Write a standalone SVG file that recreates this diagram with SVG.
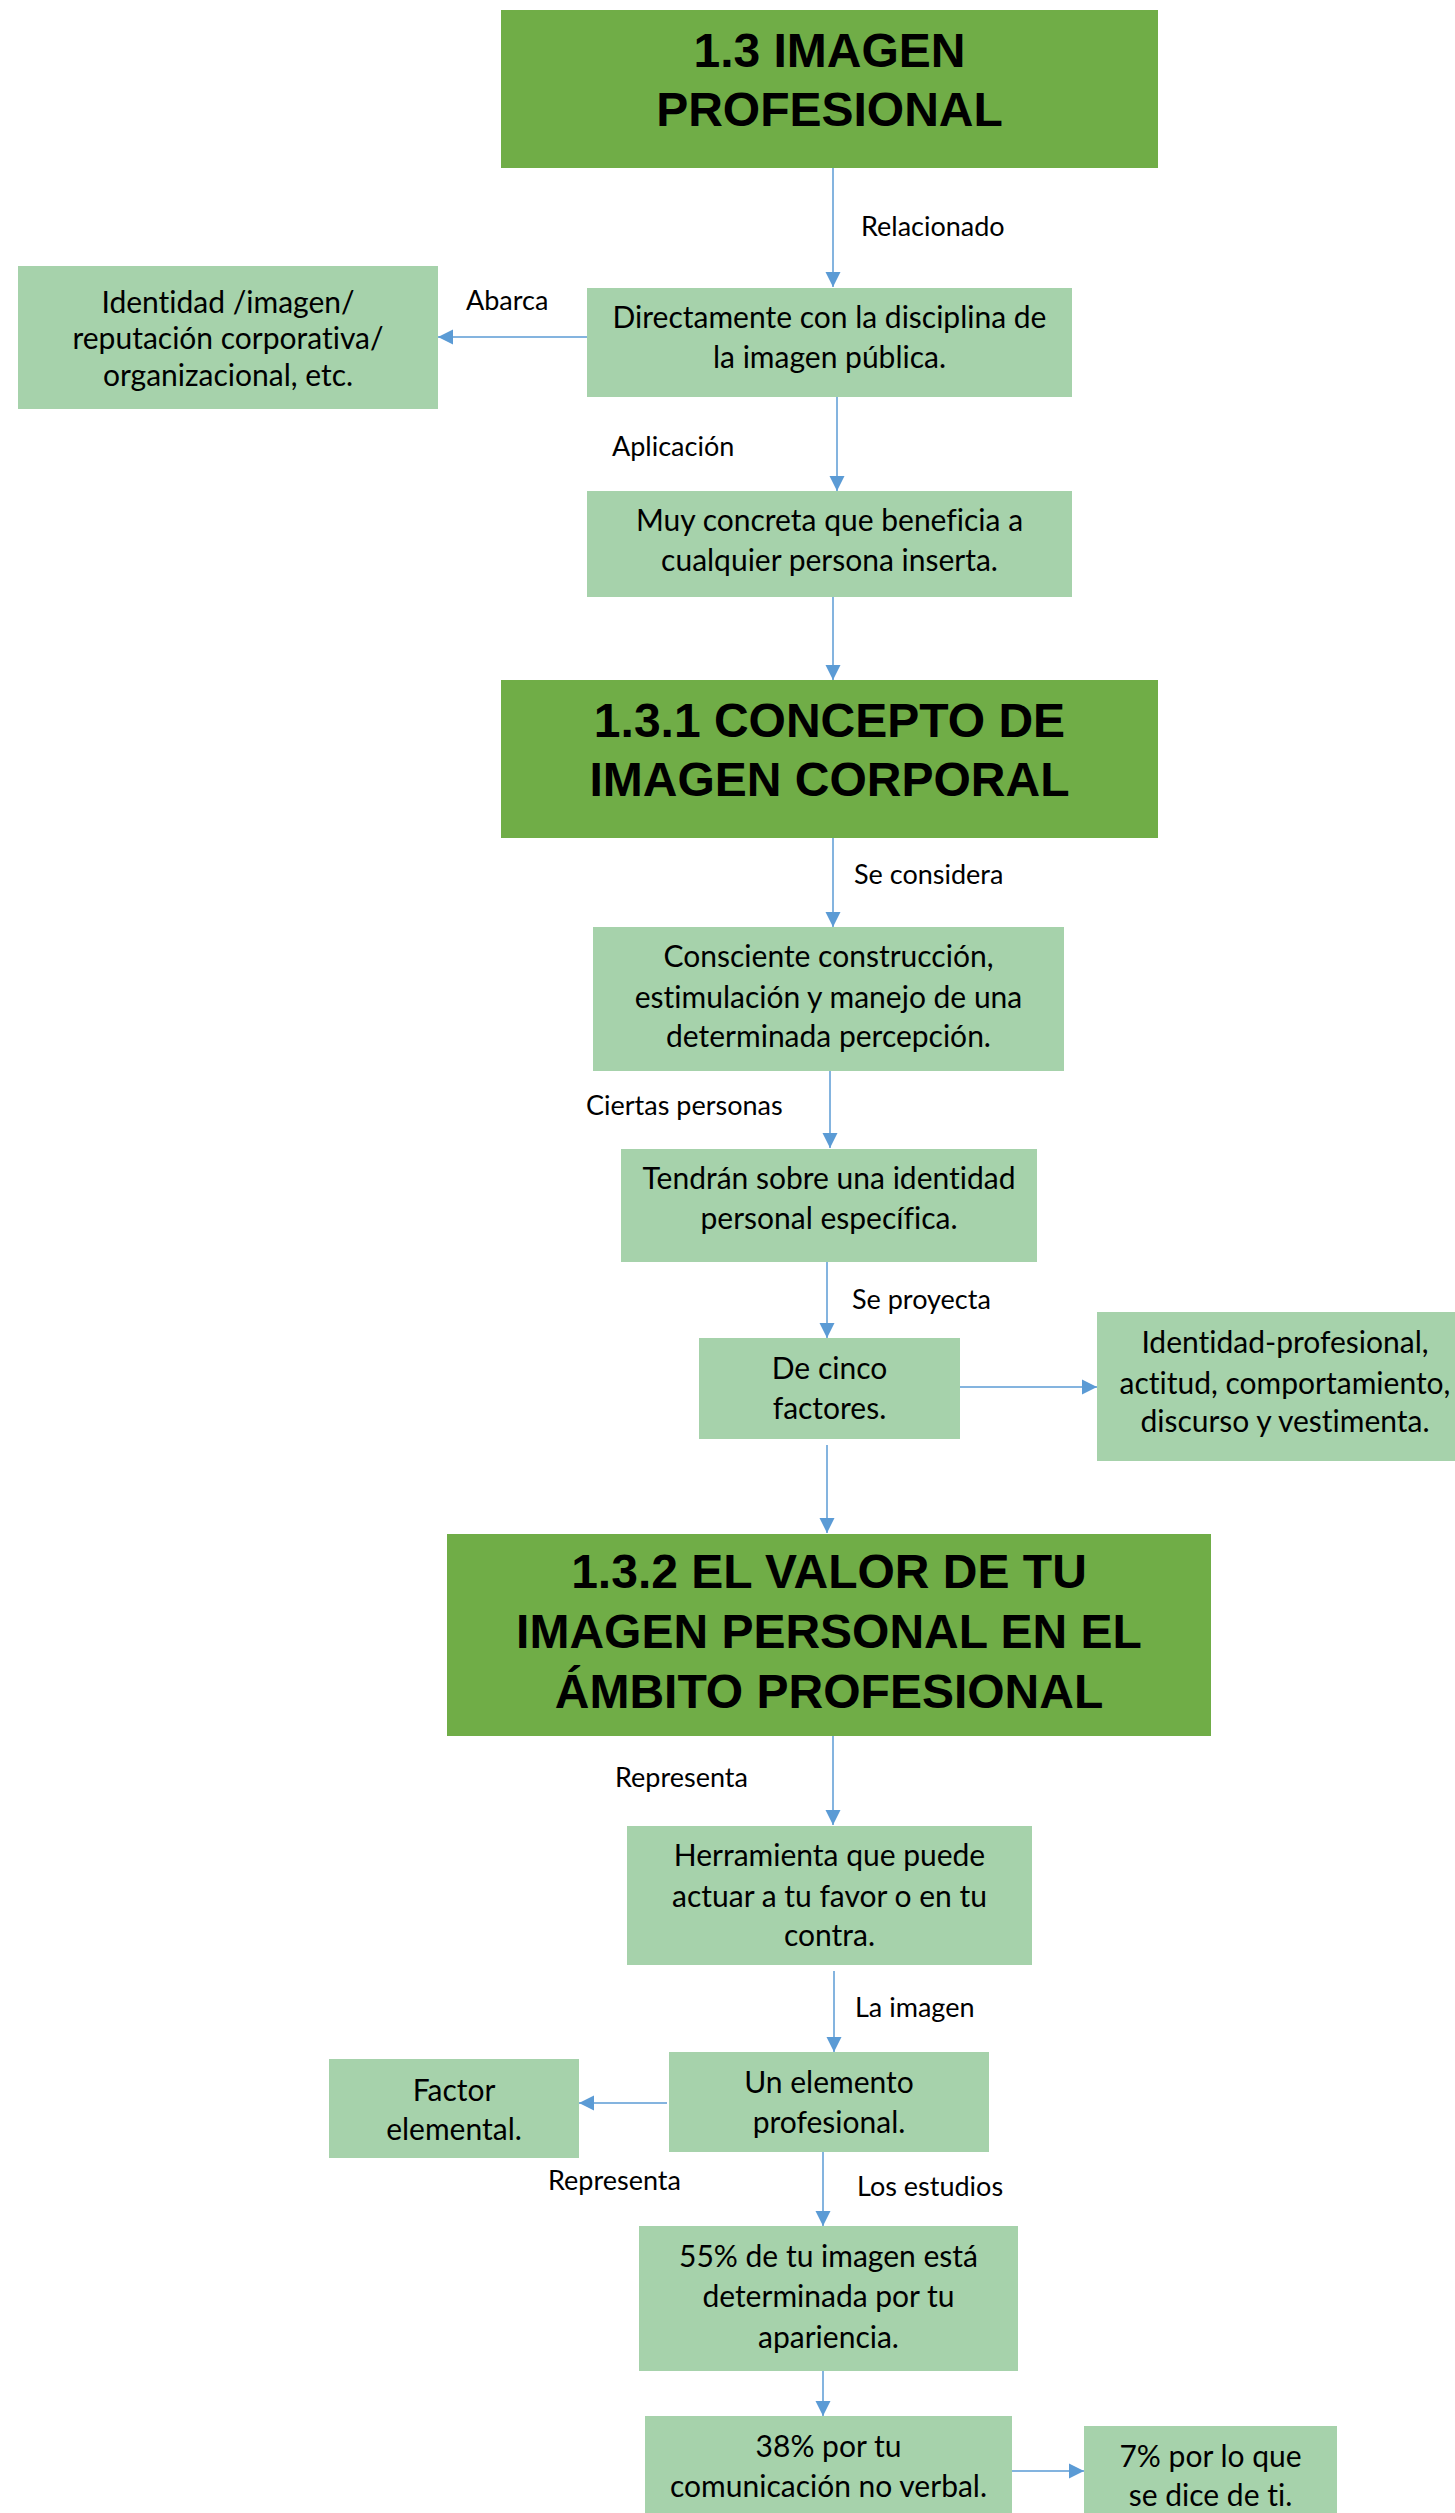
<svg xmlns="http://www.w3.org/2000/svg" width="1455" height="2513" viewBox="0 0 1455 2513">
<defs>
<marker id="ah" markerUnits="userSpaceOnUse" markerWidth="16" markerHeight="16" viewBox="0 0 16 16" refX="15" refY="8" orient="auto">
<path d="M0,0.5 L15,8 L0,15.5 Z" fill="#5B9BD5"/>
</marker>
<style>
.t{fill:#70AD47}
.b{fill:#A6D2AB}
.h{font-family:"Liberation Sans",Arial,sans-serif;font-weight:bold;font-size:48px;fill:#000;text-anchor:middle}
.x{font-family:Lato,"Open Sans",sans-serif;font-size:30px;fill:#000;text-anchor:middle;font-variant-ligatures:none}
.l{font-family:Lato,"Open Sans",sans-serif;font-size:27px;fill:#000;font-variant-ligatures:none}
.c{stroke:#5B9BD5;stroke-width:1.5;fill:none;marker-end:url(#ah)}
</style>
</defs>
<rect width="1455" height="2513" fill="#fff"/>
<g id="connectors">
<line class="c" x1="833" y1="168" x2="833" y2="287"/>
<line class="c" x1="589" y1="337" x2="438" y2="337"/>
<line class="c" x1="837" y1="397" x2="837" y2="491"/>
<line class="c" x1="833" y1="597" x2="833" y2="680"/>
<line class="c" x1="833" y1="838" x2="833" y2="927"/>
<line class="c" x1="830" y1="1071" x2="830" y2="1148"/>
<line class="c" x1="827" y1="1262" x2="827" y2="1338"/>
<line class="c" x1="960" y1="1387" x2="1097" y2="1387"/>
<line class="c" x1="827" y1="1445" x2="827" y2="1533"/>
<line class="c" x1="833" y1="1736" x2="833" y2="1825"/>
<line class="c" x1="834" y1="1971" x2="834" y2="2052"/>
<line class="c" x1="667" y1="2103" x2="579" y2="2103"/>
<line class="c" x1="823" y1="2152" x2="823" y2="2226"/>
<line class="c" x1="823" y1="2371" x2="823" y2="2416"/>
<line class="c" x1="1012" y1="2471" x2="1084" y2="2471"/>
<text class="l" x="861" y="236">Relacionado</text>
<text class="l" x="466" y="310">Abarca</text>
<text class="l" x="612" y="456">Aplicación</text>
<text class="l" x="854" y="884">Se considera</text>
<text class="l" x="586" y="1115">Ciertas personas</text>
<text class="l" x="852" y="1309">Se proyecta</text>
<text class="l" x="615" y="1787">Representa</text>
<text class="l" x="855" y="2017">La imagen</text>
<text class="l" x="548" y="2190">Representa</text>
<text class="l" x="857" y="2196">Los estudios</text>
</g>
<g id="n1"><rect class="t" x="501" y="10" width="657" height="158"/>
<text class="h" x="829.5" y="67">1.3 IMAGEN</text><text class="h" x="829.5" y="126">PROFESIONAL</text></g>
<g id="n2"><rect class="b" x="587" y="288" width="485" height="109"/>
<text class="x" x="829.5" y="328">Directamente con la disciplina de</text><text class="x" x="829.5" y="368">la imagen pública.</text></g>
<g id="n3"><rect class="b" x="18" y="266" width="420" height="143"/>
<text class="x" x="228" y="313">Identidad /imagen/</text><text class="x" x="228" y="349">reputación corporativa/</text><text class="x" x="228" y="386">organizacional, etc.</text></g>
<g id="n4"><rect class="b" x="587" y="491" width="485" height="106"/>
<text class="x" x="829.5" y="531">Muy concreta que beneficia a</text><text class="x" x="829.5" y="571">cualquier persona inserta.</text></g>
<g id="n5"><rect class="t" x="501" y="680" width="657" height="158"/>
<text class="h" x="829.5" y="737">1.3.1 CONCEPTO DE</text><text class="h" x="829.5" y="796">IMAGEN CORPORAL</text></g>
<g id="n6"><rect class="b" x="593" y="927" width="471" height="144"/>
<text class="x" x="828.5" y="967">Consciente construcción,</text><text class="x" x="828.5" y="1008">estimulación y manejo de una</text><text class="x" x="828.5" y="1047">determinada percepción.</text></g>
<g id="n7"><rect class="b" x="621" y="1149" width="416" height="113"/>
<text class="x" x="829" y="1189">Tendrán sobre una identidad</text><text class="x" x="829" y="1229">personal específica.</text></g>
<g id="n8"><rect class="b" x="699" y="1338" width="261" height="101"/>
<text class="x" x="829.5" y="1379">De cinco</text><text class="x" x="829.5" y="1419">factores.</text></g>
<g id="n9"><rect class="b" x="1097" y="1312" width="358" height="149"/>
<text class="x" x="1285" y="1353">Identidad-profesional,</text><text class="x" x="1285" y="1394">actitud, comportamiento,</text><text class="x" x="1285" y="1432">discurso y vestimenta.</text></g>
<g id="n10"><rect class="t" x="447" y="1534" width="764" height="202"/>
<text class="h" x="829" y="1588">1.3.2 EL VALOR DE TU</text><text class="h" x="829" y="1648">IMAGEN PERSONAL EN EL</text><text class="h" x="829" y="1708">ÁMBITO PROFESIONAL</text></g>
<g id="n11"><rect class="b" x="627" y="1826" width="405" height="139"/>
<text class="x" x="829.5" y="1866">Herramienta que puede</text><text class="x" x="829.5" y="1907">actuar a tu favor o en tu</text><text class="x" x="829.5" y="1946">contra.</text></g>
<g id="n12"><rect class="b" x="669" y="2052" width="320" height="100"/>
<text class="x" x="829" y="2093">Un elemento</text><text class="x" x="829" y="2133">profesional.</text></g>
<g id="n13"><rect class="b" x="329" y="2059" width="250" height="99"/>
<text class="x" x="454" y="2101">Factor</text><text class="x" x="454" y="2140">elemental.</text></g>
<g id="n14"><rect class="b" x="639" y="2226" width="379" height="145"/>
<text class="x" x="828.5" y="2267">55% de tu imagen está</text><text class="x" x="828.5" y="2307">determinada por tu</text><text class="x" x="828.5" y="2348">apariencia.</text></g>
<g id="n15"><rect class="b" x="645" y="2416" width="367" height="97"/>
<text class="x" x="828.5" y="2457">38% por tu</text><text class="x" x="828.5" y="2497">comunicación no verbal.</text></g>
<g id="n16"><rect class="b" x="1084" y="2426" width="253" height="87"/>
<text class="x" x="1210.5" y="2467">7% por lo que</text><text class="x" x="1210.5" y="2506">se dice de ti.</text></g>
</svg>
